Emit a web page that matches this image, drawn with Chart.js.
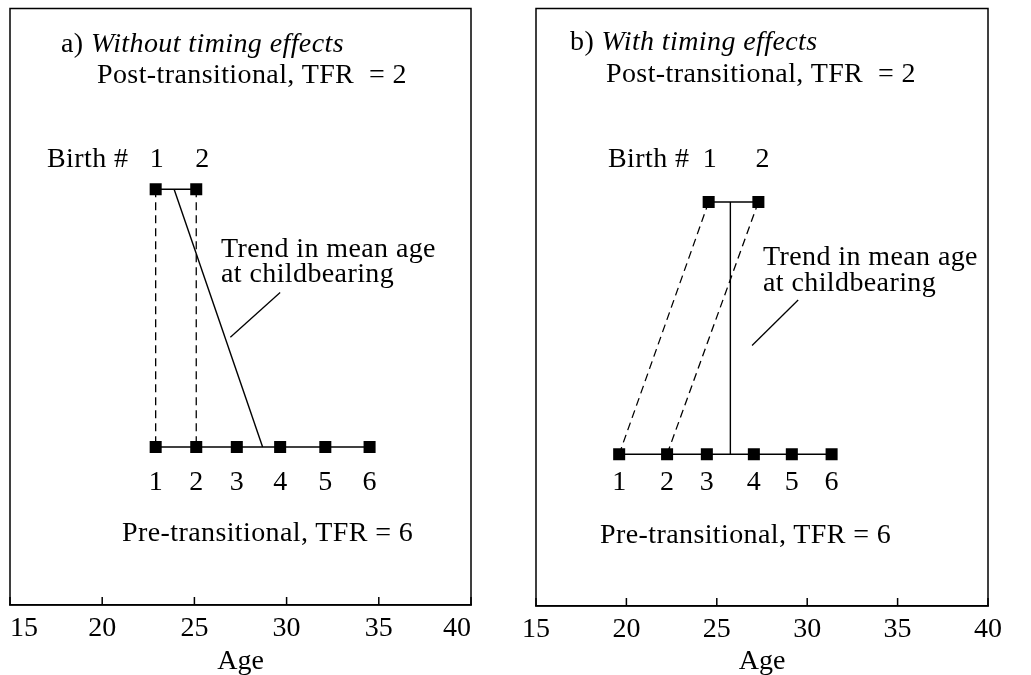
<!DOCTYPE html>
<html>
<head>
<meta charset="utf-8">
<title>Birth timing and mean age at childbearing</title>
<script src="https://cdn.jsdelivr.net/npm/chart.js@4.4.1/dist/chart.umd.min.js"></script>
<style>
    html, body { margin: 0; padding: 0; background: #fff; overflow: hidden; }
    #page { position: relative; width: 1031px; height: 675px; font-family: "Liberation Serif", "Times New Roman", serif; color: #000; }
    .panel { position: absolute; top: 0; width: 560px; height: 675px; }
    .note { position: absolute; font-size: 28px; line-height: 28px; letter-spacing: 0.4px; white-space: nowrap; }
    .note.two { line-height: 25px; }
</style>
</head>
<body>
<div id="page">
    <div class="panel" style="left:-40px"><canvas id="chartA"></canvas></div>
    <div class="panel" style="left:486px"><canvas id="chartB"></canvas></div>

    <!-- panel a -->
    <div class="note" style="left:61px; top:29px">a) <i>Without timing effects</i></div>
    <div class="note" style="left:97px; top:60px">Post-transitional, TFR&nbsp; = 2</div>
    <div class="note" style="left:47px; top:144px">Birth #</div>
    <div class="note two" style="left:221px; top:235px">Trend in mean age<br>at childbearing</div>
    <div class="note" style="left:122px; top:518px">Pre-transitional, TFR = 6</div>

    <!-- panel b -->
    <div class="note" style="left:570px; top:27px">b) <i>With timing effects</i></div>
    <div class="note" style="left:606px; top:59px">Post-transitional, TFR&nbsp; = 2</div>
    <div class="note" style="left:608px; top:144px">Birth #</div>
    <div class="note two" style="left:763px; top:243px; line-height:26px">Trend in mean age<br>at childbearing</div>
    <div class="note" style="left:600px; top:520px">Pre-transitional, TFR = 6</div>
</div>

<script>
// axis range (age) and the hidden vertical level scale
const ageTicks = [15, 20, 25, 30, 35, 40];
const levelRange = [0, 10];

// birth orders written next to the markers
const birthOrderPre = ['1', '2', '3', '4', '5', '6'];
const birthOrderPost = ['1', '2'];

// a) without timing effects
const preAgesA = [22.9, 25.1, 27.3, 29.65, 32.1, 34.5];
const postAgesA = [22.9, 25.1];
const preLevelA = 2.65;
const postLevelA = 6.97;
const trendAgesA = [23.9, 28.7];
const leaderA = [[29.65, 5.24], [26.95, 4.49]];

// b) with timing effects
const preAgesB = [19.6, 22.25, 24.45, 27.05, 29.15, 31.35];
const postAgesB = [24.55, 27.3];
const preLevelB = 2.54;
const postLevelB = 6.76;
const trendAgesB = [25.75, 25.75];
const leaderB = [[29.5, 5.12], [26.95, 4.36]];

const FONT = '"Liberation Serif", "Times New Roman", serif';

function buildDatasets(preAges, postAges, preLevel, postLevel, trendAges) {
    const marker = {
        showLine: true,
        borderColor: '#000',
        borderWidth: 1.5,
        pointStyle: 'rect',
        pointRadius: 8.5,
        pointHoverRadius: 8.5,
        pointBackgroundColor: '#000',
        pointBorderWidth: 0
    };
    const sets = [
        { label: 'Pre-transitional', data: preAges.map(x => ({ x: x, y: preLevel })), ...marker },
        { label: 'Post-transitional', data: postAges.map(x => ({ x: x, y: postLevel })), ...marker },
        {
            label: 'Trend in mean age',
            data: [{ x: trendAges[0], y: postLevel }, { x: trendAges[1], y: preLevel }],
            showLine: true, pointRadius: 0, borderColor: '#000', borderWidth: 1.4
        }
    ];
    // dashed link from each post-transitional birth to the same order before the transition
    postAges.forEach((x, i) => {
        sets.push({
            label: 'Birth ' + (i + 1),
            data: [{ x: x, y: postLevel }, { x: preAges[i], y: preLevel }],
            showLine: true, pointRadius: 0, borderColor: '#000', borderWidth: 1.3,
            borderDash: [8, 5]
        });
    });
    return sets;
}

// frame, inward ticks, leader line and birth order numbers
const framePlugin = {
    id: 'frame',
    afterDatasetsDraw(chart, args, opts) {
        const { ctx, chartArea: a, scales } = chart;
        ctx.save();
        ctx.strokeStyle = '#000';
        ctx.lineWidth = 1.5;
        ctx.strokeRect(a.left, a.top, a.right - a.left, a.bottom - a.top);

        ctx.beginPath();
        scales.x.ticks.forEach(t => {
            const px = scales.x.getPixelForValue(t.value);
            ctx.moveTo(px, a.bottom);
            ctx.lineTo(px, a.bottom - 8);
        });
        ctx.stroke();

        ctx.lineWidth = 1.3;
        ctx.beginPath();
        ctx.moveTo(scales.x.getPixelForValue(opts.leader[0][0]), scales.y.getPixelForValue(opts.leader[0][1]));
        ctx.lineTo(scales.x.getPixelForValue(opts.leader[1][0]), scales.y.getPixelForValue(opts.leader[1][1]));
        ctx.stroke();

        ctx.fillStyle = '#000';
        ctx.font = '28px ' + FONT;
        ctx.textAlign = 'center';
        ctx.textBaseline = 'alphabetic';
        const pre = chart.data.datasets[0].data;
        const post = chart.data.datasets[1].data;
        birthOrderPre.forEach((s, i) => ctx.fillText(s, scales.x.getPixelForValue(pre[i].x), opts.preBaseline));
        birthOrderPost.forEach((s, i) => ctx.fillText(s, scales.x.getPixelForValue(post[i].x) + opts.postShift[i], opts.postBaseline));
        ctx.restore();
    }
};

function makeChart(id, datasets, pad, axisHeight, tickAlign, frameOpts) {
    return new Chart(document.getElementById(id), {
        type: 'scatter',
        data: { datasets: datasets },
        plugins: [framePlugin],
        options: {
            responsive: true,
            maintainAspectRatio: false,
            animation: false,
            layout: { padding: pad },
            plugins: {
                legend: { display: false },
                tooltip: { enabled: false },
                frame: frameOpts
            },
            scales: {
                x: {
                    type: 'linear',
                    min: ageTicks[0],
                    max: ageTicks[ageTicks.length - 1],
                    afterBuildTicks: scale => { scale.ticks = ageTicks.map(v => ({ value: v })); },
                    afterFit: scale => { scale.height = axisHeight; },
                    grid: { display: false, drawTicks: false },
                    border: { display: true, color: '#000', width: 1.5 },
                    ticks: { color: '#000', padding: 7, align: tickAlign, font: { family: FONT, size: 28 } },
                    title: {
                        display: true,
                        text: 'Age',
                        color: '#000',
                        padding: { top: 0, bottom: -3 },
                        font: { family: FONT, size: 28 }
                    }
                },
                y: {
                    display: false,
                    min: levelRange[0],
                    max: levelRange[1]
                }
            }
        }
    });
}

makeChart('chartA',
    buildDatasets(preAgesA, postAgesA, preLevelA, postLevelA, trendAgesA),
    { left: 50, right: 49, top: 8, bottom: 0 }, 70, 'inner',
    { leader: leaderA, preBaseline: 490, postBaseline: 167, postShift: [1, 6] });

makeChart('chartB',
    buildDatasets(preAgesB, postAgesB, preLevelB, postLevelB, trendAgesB),
    { left: 50, right: 58, top: 8, bottom: 0 }, 69, 'center',
    { leader: leaderB, preBaseline: 490, postBaseline: 167, postShift: [1, 4] });
</script>
</body>
</html>
